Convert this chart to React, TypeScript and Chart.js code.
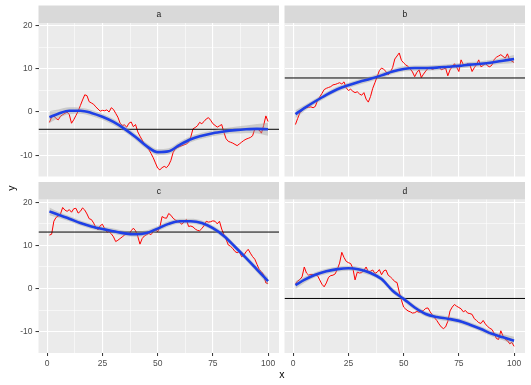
import React, { useEffect, useRef } from 'react';
import { Chart, registerables } from 'chart.js';
Chart.register(...registerables);

const W = 531;
const H = 385;
const X_MIN = -3.95;
const X_MAX = 104.95;
const Y_MIN = -14.95;
const Y_MAX = 20.65;

const xMajor = [0, 25, 50, 75, 100];
const xMinor = [12.5, 37.5, 62.5, 87.5];
const yMajor = [-10, 0, 10, 20];
const yMinor = [-5, 5, 15];

const facetLabels = ['a', 'b', 'c', 'd'];
const axisTitleX = 'x';
const axisTitleY = 'y';

const seriesA = [
  -2.4, -1.2, -0.9, -1.5, -1.8, -1.0, -0.6, -0.3, 0.0, -0.6,
  -2.6, -1.8, -0.8, 0.2, 1.5, 2.8, 4.0, 3.8, 2.4, 2.1,
  1.8, 1.2, 0.7, 0.2, 0.4, 0.3, 0.5, 0.0, 1.0, 0.6,
  -0.3, -1.2, -2.6, -3.1, -3.0, -3.5, -2.6, -2.3, -3.4, -2.9,
  -4.6, -5.6, -6.5, -7.4, -8.0, -8.7, -9.6, -10.6, -11.8, -13.0,
  -13.4, -12.9, -12.6, -12.9, -12.3, -11.2, -9.4, -8.5, -8.2, -8.0,
  -7.8, -7.6, -7.4, -7.0, -5.8, -3.9, -3.6, -3.2, -2.4, -2.7,
  -2.2, -1.6, -1.3, -1.9, -2.7, -3.1, -3.5, -3.2, -2.9, -4.7,
  -6.2, -6.8, -7.0, -7.2, -7.5, -7.8, -7.4, -7.0, -6.6, -6.3,
  -6.1, -5.9, -5.5, -3.9, -3.9, -4.2, -4.9, -3.1, -0.9, -2.2,
];
const seriesB = [
  -2.9, -1.5, -0.2, 0.4, 0.8, 1.0, 1.1, 1.2, 1.0, 1.3,
  2.7, 3.5, 4.3, 5.2, 5.5, 5.7, 5.9, 6.3, 6.4, 6.6,
  6.8, 6.5, 7.0, 5.6, 5.0, 5.3, 4.8, 4.5, 4.7, 4.2,
  3.9, 4.5, 3.0, 2.3, 3.6, 5.5, 6.8, 8.2, 9.6, 10.2,
  9.9, 9.4, 8.6, 9.3, 10.3, 12.3, 13.0, 13.7, 12.0, 11.4,
  10.9, 10.6, 10.0, 9.3, 8.2, 9.2, 9.8, 8.0, 8.8, 9.5,
  10.1, 10.2, 9.9, 10.1, 10.2, 10.5, 9.8, 10.0, 10.2, 8.4,
  9.8, 10.5, 11.2, 10.4, 9.4, 12.1, 11.0, 10.9, 11.2, 10.9,
  9.4, 10.3, 11.0, 12.1, 10.5, 10.8, 11.3, 10.7, 10.5, 10.9,
  12.2, 12.7, 13.0, 13.3, 12.9, 12.5, 13.5, 12.1, 11.8, 11.5,
];
const seriesC = [
  12.4, 12.6, 15.6, 16.5, 16.8, 17.3, 18.8, 18.2, 17.9, 18.3,
  17.7, 18.5, 18.6, 17.5, 17.9, 18.7, 18.2, 17.3, 16.2, 16.0,
  15.2, 14.2, 13.6, 14.6, 14.9, 13.9, 13.1, 13.2, 12.7, 12.0,
  10.9, 11.2, 11.6, 12.0, 12.4, 12.8, 12.5, 13.4, 14.0, 13.4,
  12.1, 10.3, 11.6, 12.2, 12.5, 12.8, 12.5, 13.2, 13.6, 13.2,
  14.2, 16.7, 16.4, 16.3, 17.4, 17.0, 16.3, 15.9, 15.6, 15.3,
  14.9, 15.5, 16.0, 14.4, 14.5, 14.3, 13.8, 13.5, 13.4, 13.9,
  14.6, 15.6, 15.4, 15.5, 15.7, 15.6, 15.0, 15.6, 13.8, 12.5,
  11.4, 10.1, 9.8, 9.3, 8.6, 8.3, 8.6, 7.4, 7.7, 8.5,
  9.1, 8.2, 7.4, 6.8, 5.6, 4.4, 3.9, 3.2, 1.3, 1.2,
];
const seriesD = [
  1.2, 1.7, 2.1, 2.7, 5.0, 3.6, 3.1, 3.3, 3.2, 3.1,
  3.0, 2.0, 1.0, 0.4, 1.3, 2.6, 3.0, 3.1, 3.4, 4.5,
  5.9, 8.4, 7.2, 6.3, 6.0, 5.8, 4.7, 2.0, 3.8, 3.6,
  3.7, 4.2, 5.0, 3.9, 4.0, 4.3, 3.5, 3.8, 4.4, 3.2,
  4.1, 4.3, 3.1, 2.7, 2.2, 1.6, 1.4, -0.8, -2.7, -4.3,
  -4.8, -5.2, -5.4, -5.7, -5.6, -5.3, -5.5, -5.3, -5.1, -4.6,
  -4.5, -5.4, -6.1, -6.8, -7.4, -8.2, -8.9, -9.3, -8.9, -7.6,
  -5.2, -4.3, -3.7, -4.1, -4.4, -4.7, -5.4, -5.1, -5.7, -5.8,
  -6.0, -7.0, -7.4, -7.9, -8.1, -7.4, -8.2, -8.8, -9.2, -9.5,
  -10.4, -11.6, -11.8, -9.8, -11.0, -11.8, -12.1, -12.8, -12.5, -13.4,
];

const smoothX = [1, 5, 10, 15, 20, 25, 30, 35, 40, 45, 50, 55, 60, 65, 70, 75, 80, 85, 90, 95, 100];
const smoothA = [-1.2, -0.4, 0.3, 0.3, -0.2, -1.1, -2.3, -3.9, -5.8, -7.9, -9.3, -9.1, -7.6, -6.3, -5.5, -4.9, -4.5, -4.2, -4.0, -3.9, -4.0];
const smoothB = [-0.5, 0.9, 2.5, 4.0, 5.3, 6.2, 7.0, 7.7, 8.5, 9.4, 10.0, 10.2, 10.2, 10.3, 10.5, 10.7, 11.0, 11.2, 11.5, 11.9, 12.3];
const smoothC = [17.9, 17.1, 16.2, 15.2, 14.4, 13.8, 13.3, 12.8, 12.6, 12.9, 13.9, 15.0, 15.6, 15.6, 15.2, 14.0, 12.2, 9.7, 7.1, 4.4, 1.7];
const smoothD = [0.8, 2.0, 3.2, 4.0, 4.5, 4.7, 4.4, 3.6, 2.2, -0.5, -2.4, -4.4, -5.9, -6.6, -7.0, -7.5, -8.4, -9.4, -10.5, -11.3, -12.1];

const seA = [1.4, 1.0, 0.8, 0.7, 0.7, 0.7, 0.7, 0.7, 0.7, 0.7, 0.7, 0.7, 0.7, 0.7, 0.7, 0.7, 0.7, 0.8, 0.9, 1.1, 1.5];
const seB = [0.9, 0.7, 0.6, 0.6, 0.6, 0.6, 0.6, 0.6, 0.6, 0.6, 0.6, 0.6, 0.6, 0.6, 0.6, 0.6, 0.6, 0.6, 0.6, 0.7, 0.9];
const seC = [0.9, 0.7, 0.6, 0.6, 0.6, 0.6, 0.6, 0.6, 0.6, 0.6, 0.6, 0.6, 0.6, 0.6, 0.6, 0.6, 0.6, 0.6, 0.6, 0.7, 0.9];
const seD = [0.9, 0.7, 0.6, 0.6, 0.6, 0.6, 0.6, 0.6, 0.6, 0.6, 0.6, 0.6, 0.6, 0.6, 0.6, 0.6, 0.6, 0.6, 0.6, 0.7, 0.9];

const meanA = -4.0;
const meanB = 7.9;
const meanC = 13.1;
const meanD = -2.3;

const rawSeries = [seriesA, seriesB, seriesC, seriesD];
const smoothSeries = [smoothA, smoothB, smoothC, smoothD];
const seSeries = [seA, seB, seC, seD];
const means = [meanA, meanB, meanC, meanD];

// layout (pixels)
const STRIP_H = 17.5;
const X_AXIS_H = 16;
const PANELS = [
  { left: 38.5, top: 23, right: 279, bottom: 176.5, showX: false, showY: true },
  { left: 284.5, top: 23, right: 525, bottom: 176.5, showX: false, showY: false },
  { left: 38.5, top: 199.5, right: 279, bottom: 353, showX: true, showY: true },
  { left: 284.5, top: 199.5, right: 525, bottom: 353, showX: true, showY: false },
];

const FONT_FAMILY = '"Liberation Sans", Arial, Helvetica, sans-serif';
const TICK_FONT_SIZE = 8.5;

const stripPlugin = {
  id: 'strip',
  beforeDraw(chart: any, _args: any, opts: any) {
    const { ctx, chartArea: ca } = chart;
    ctx.save();
    ctx.fillStyle = '#EBEBEB';
    ctx.fillRect(ca.left, ca.top, ca.right - ca.left, ca.bottom - ca.top);
    ctx.fillStyle = '#D9D9D9';
    ctx.fillRect(ca.left, ca.top - STRIP_H, ca.right - ca.left, STRIP_H);
    ctx.fillStyle = '#1A1A1A';
    ctx.font = `${TICK_FONT_SIZE}px ${FONT_FAMILY}`;
    ctx.textAlign = 'center';
    ctx.textBaseline = 'middle';
    ctx.fillText(opts.label, (ca.left + ca.right) / 2, ca.top - STRIP_H / 2 + 0.5);
    ctx.restore();
  },
};

const titlesPlugin = {
  id: 'axisTitles',
  afterDraw(chart: any) {
    const { ctx } = chart;
    ctx.save();
    ctx.fillStyle = '#000000';
    ctx.font = `10.5px ${FONT_FAMILY}`;
    ctx.textAlign = 'center';
    ctx.textBaseline = 'middle';
    ctx.fillText(axisTitleX, (PANELS[0].left + PANELS[1].right) / 2, 375);
    ctx.translate(12, (PANELS[0].top + PANELS[2].bottom) / 2);
    ctx.rotate(-Math.PI / 2);
    ctx.fillText(axisTitleY, 0, 0);
    ctx.restore();
  },
};

function makeConfig(i: number): any {
  const p = PANELS[i];
  const raw = rawSeries[i];
  const sm = smoothSeries[i];
  const se = seSeries[i];
  const mean = means[i];
  const xTicks = [...xMajor, ...xMinor].sort((a, b) => a - b);
  const yTicks = [...yMajor, ...yMinor].sort((a, b) => a - b);
  const plugins: any[] = [stripPlugin];
  if (i === 0) plugins.push(titlesPlugin);
  const yAxisW = p.showY ? p.left : 0;
  const xAxisH = p.showX ? X_AXIS_H : 0;
  return {
    type: 'line',
    data: {
      datasets: [
        {
          data: smoothX.map((x, k) => ({ x, y: sm[k] })),
          borderColor: '#1F40E6',
          borderWidth: 2.6,
          pointRadius: 0,
          fill: false,
          cubicInterpolationMode: 'monotone',
        },
        {
          data: smoothX.map((x, k) => ({ x, y: sm[k] + se[k] })),
          borderColor: 'transparent',
          borderWidth: 0,
          pointRadius: 0,
          fill: '+1',
          backgroundColor: 'rgba(153,153,153,0.4)',
          cubicInterpolationMode: 'monotone',
        },
        {
          data: smoothX.map((x, k) => ({ x, y: sm[k] - se[k] })),
          borderColor: 'transparent',
          borderWidth: 0,
          pointRadius: 0,
          fill: false,
          cubicInterpolationMode: 'monotone',
        },
        {
          data: [
            { x: X_MIN, y: mean },
            { x: X_MAX, y: mean },
          ],
          borderColor: '#000000',
          borderWidth: 1,
          pointRadius: 0,
          fill: false,
        },
        {
          data: raw.map((v, k) => ({ x: k + 1, y: v })),
          borderColor: '#FF0000',
          borderWidth: 1,
          pointRadius: 0,
          fill: false,
          tension: 0,
        },
      ],
    },
    options: {
      animation: false,
      responsive: false,
      events: [],
      layout: {
        padding: {
          left: p.left - yAxisW,
          top: p.top,
          right: W - p.right,
          bottom: H - p.bottom - xAxisH,
        },
      },
      plugins: {
        legend: { display: false },
        tooltip: { enabled: false },
        title: { display: false },
        strip: { label: facetLabels[i] },
      },
      scales: {
        x: {
          type: 'linear',
          min: X_MIN,
          max: X_MAX,
          afterBuildTicks: (s: any) => {
            s.ticks = xTicks.map((v) => ({ value: v }));
          },
          afterFit: (s: any) => {
            s.height = xAxisH;
          },
          border: { display: false },
          grid: {
            color: '#FFFFFF',
            lineWidth: (c: any) => (xMajor.includes(c.tick?.value) ? 1.1 : 0.55),
            drawTicks: p.showX,
            tickLength: 3,
            tickWidth: 1,
            tickColor: (c: any) => (xMajor.includes(c.tick?.value) ? '#333333' : 'rgba(0,0,0,0)'),
          },
          ticks: {
            display: p.showX,
            autoSkip: false,
            maxRotation: 0,
            padding: 2.5,
            color: '#4D4D4D',
            font: { family: FONT_FAMILY, size: TICK_FONT_SIZE },
            callback: (v: number) => (xMajor.includes(v) ? String(v) : ''),
          },
        },
        y: {
          type: 'linear',
          min: Y_MIN,
          max: Y_MAX,
          afterBuildTicks: (s: any) => {
            s.ticks = yTicks.map((v) => ({ value: v }));
          },
          afterFit: (s: any) => {
            s.width = yAxisW;
          },
          border: { display: false },
          grid: {
            color: '#FFFFFF',
            lineWidth: (c: any) => (yMajor.includes(c.tick?.value) ? 1.1 : 0.55),
            drawTicks: p.showY,
            tickLength: 3,
            tickWidth: 1,
            tickColor: (c: any) => (yMajor.includes(c.tick?.value) ? '#333333' : 'rgba(0,0,0,0)'),
          },
          ticks: {
            display: p.showY,
            autoSkip: false,
            padding: 3,
            color: '#4D4D4D',
            font: { family: FONT_FAMILY, size: TICK_FONT_SIZE },
            callback: (v: number) => (yMajor.includes(v) ? String(v) : ''),
          },
        },
      },
    },
    plugins,
  };
}

export default function App() {
  const r0 = useRef<HTMLCanvasElement>(null);
  const r1 = useRef<HTMLCanvasElement>(null);
  const r2 = useRef<HTMLCanvasElement>(null);
  const r3 = useRef<HTMLCanvasElement>(null);
  const refs = [r0, r1, r2, r3];

  useEffect(() => {
    const charts = refs.map((r, i) => new Chart(r.current as HTMLCanvasElement, makeConfig(i)));
    return () => charts.forEach((c) => c.destroy());
  }, []);

  return (
    <div style={{ position: 'fixed', left: 0, top: 0, width: W, height: H, background: '#FFFFFF' }}>
      {refs.map((r, i) => (
        <canvas
          key={i}
          ref={r}
          width={W}
          height={H}
          style={{ position: 'absolute', left: 0, top: 0, width: W, height: H }}
        />
      ))}
    </div>
  );
}
